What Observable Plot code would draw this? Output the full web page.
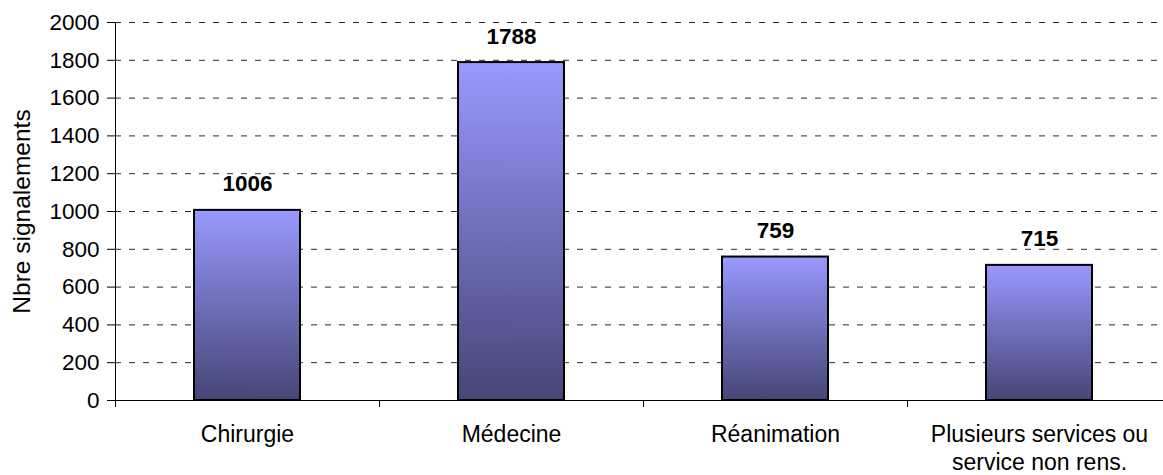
<!DOCTYPE html>
<html>
<head>
<meta charset="utf-8">
<script src="https://cdn.jsdelivr.net/npm/d3@7"></script>
<script src="https://cdn.jsdelivr.net/npm/@observablehq/plot@0.6"></script>
<style>
  html, body { margin: 0; padding: 0; background: #fff; overflow: hidden; }
  #chart svg { display: block; }
</style>
</head>
<body>
<div id="chart"></div>
<script>
const categories = ["Chirurgie", "Médecine", "Réanimation", "Plusieurs services ou\nservice non rens."];
const values = [1006, 1788, 759, 715];
const yTicks = [0, 200, 400, 600, 800, 1000, 1200, 1400, 1600, 1800, 2000];
const yLabel = "Nbre signalements";

const data = categories.map((c, i) => ({cat: c, value: values[i]}));

const W = 1163, H = 475;
const mL = 115, mR = -8, mT = 22, mB = 75;
const half = (W - mL - mR) / categories.length / 2;

const chart = Plot.plot({
  width: W,
  height: H,
  marginLeft: mL,
  marginRight: mR,
  marginTop: mT,
  marginBottom: mB,
  style: {fontFamily: "'Liberation Sans', Arial, sans-serif", fontSize: "22px", color: "#000", background: "#fff"},
  x: {domain: categories, paddingInner: 0.6, paddingOuter: 0.3, label: null},
  y: {domain: [0, 2000], label: null},
  marks: [
    Plot.ruleY(yTicks.filter(d => d > 0), {stroke: "#2a2a2a", strokeWidth: 1, strokeDasharray: "6,8"}),
    Plot.barY(data, {x: "cat", y: "value", fill: "url(#barGrad)", stroke: "#000", strokeWidth: 2}),
    Plot.ruleY([0], {stroke: "#000", strokeWidth: 1, insetLeft: -8}),
    Plot.ruleX([categories[0]], {dx: -half, y1: 0, y2: 2000, stroke: "#000", strokeWidth: 1}),
    Plot.ruleX(categories, {dx: -half, y1: 0, y2: 0, insetBottom: -7, stroke: "#000", strokeWidth: 1}),
    Plot.axisY({ticks: yTicks, tickFormat: d => String(d), tickSize: 8, tickPadding: 8, fontSize: 22.5, label: null}),
    Plot.axisX({tickSize: 0, tickPadding: 22, fontSize: 23, lineHeight: 1.2, label: null}),
    Plot.text(data, {x: "cat", y: "value", text: d => String(d.value), dy: -19, lineAnchor: "bottom", fontWeight: "bold", fontSize: 22.5, fill: "#000"}),
    Plot.text([yLabel], {frameAnchor: "left", dx: -93, rotate: -90, text: d => d, fontSize: 24.5, fill: "#000", textAnchor: "middle", lineAnchor: "middle"})
  ]
});

const svg = d3.select(chart);
const defs = svg.insert("defs", ":first-child");
const grad = defs.append("linearGradient").attr("id", "barGrad")
  .attr("x1", 0).attr("y1", 0).attr("x2", 0).attr("y2", 1);
grad.append("stop").attr("offset", "0%").attr("stop-color", "#9999ff");
grad.append("stop").attr("offset", "50%").attr("stop-color", "#6e6eba");
grad.append("stop").attr("offset", "100%").attr("stop-color", "#464676");

document.getElementById("chart").appendChild(chart);
</script>
</body>
</html>
